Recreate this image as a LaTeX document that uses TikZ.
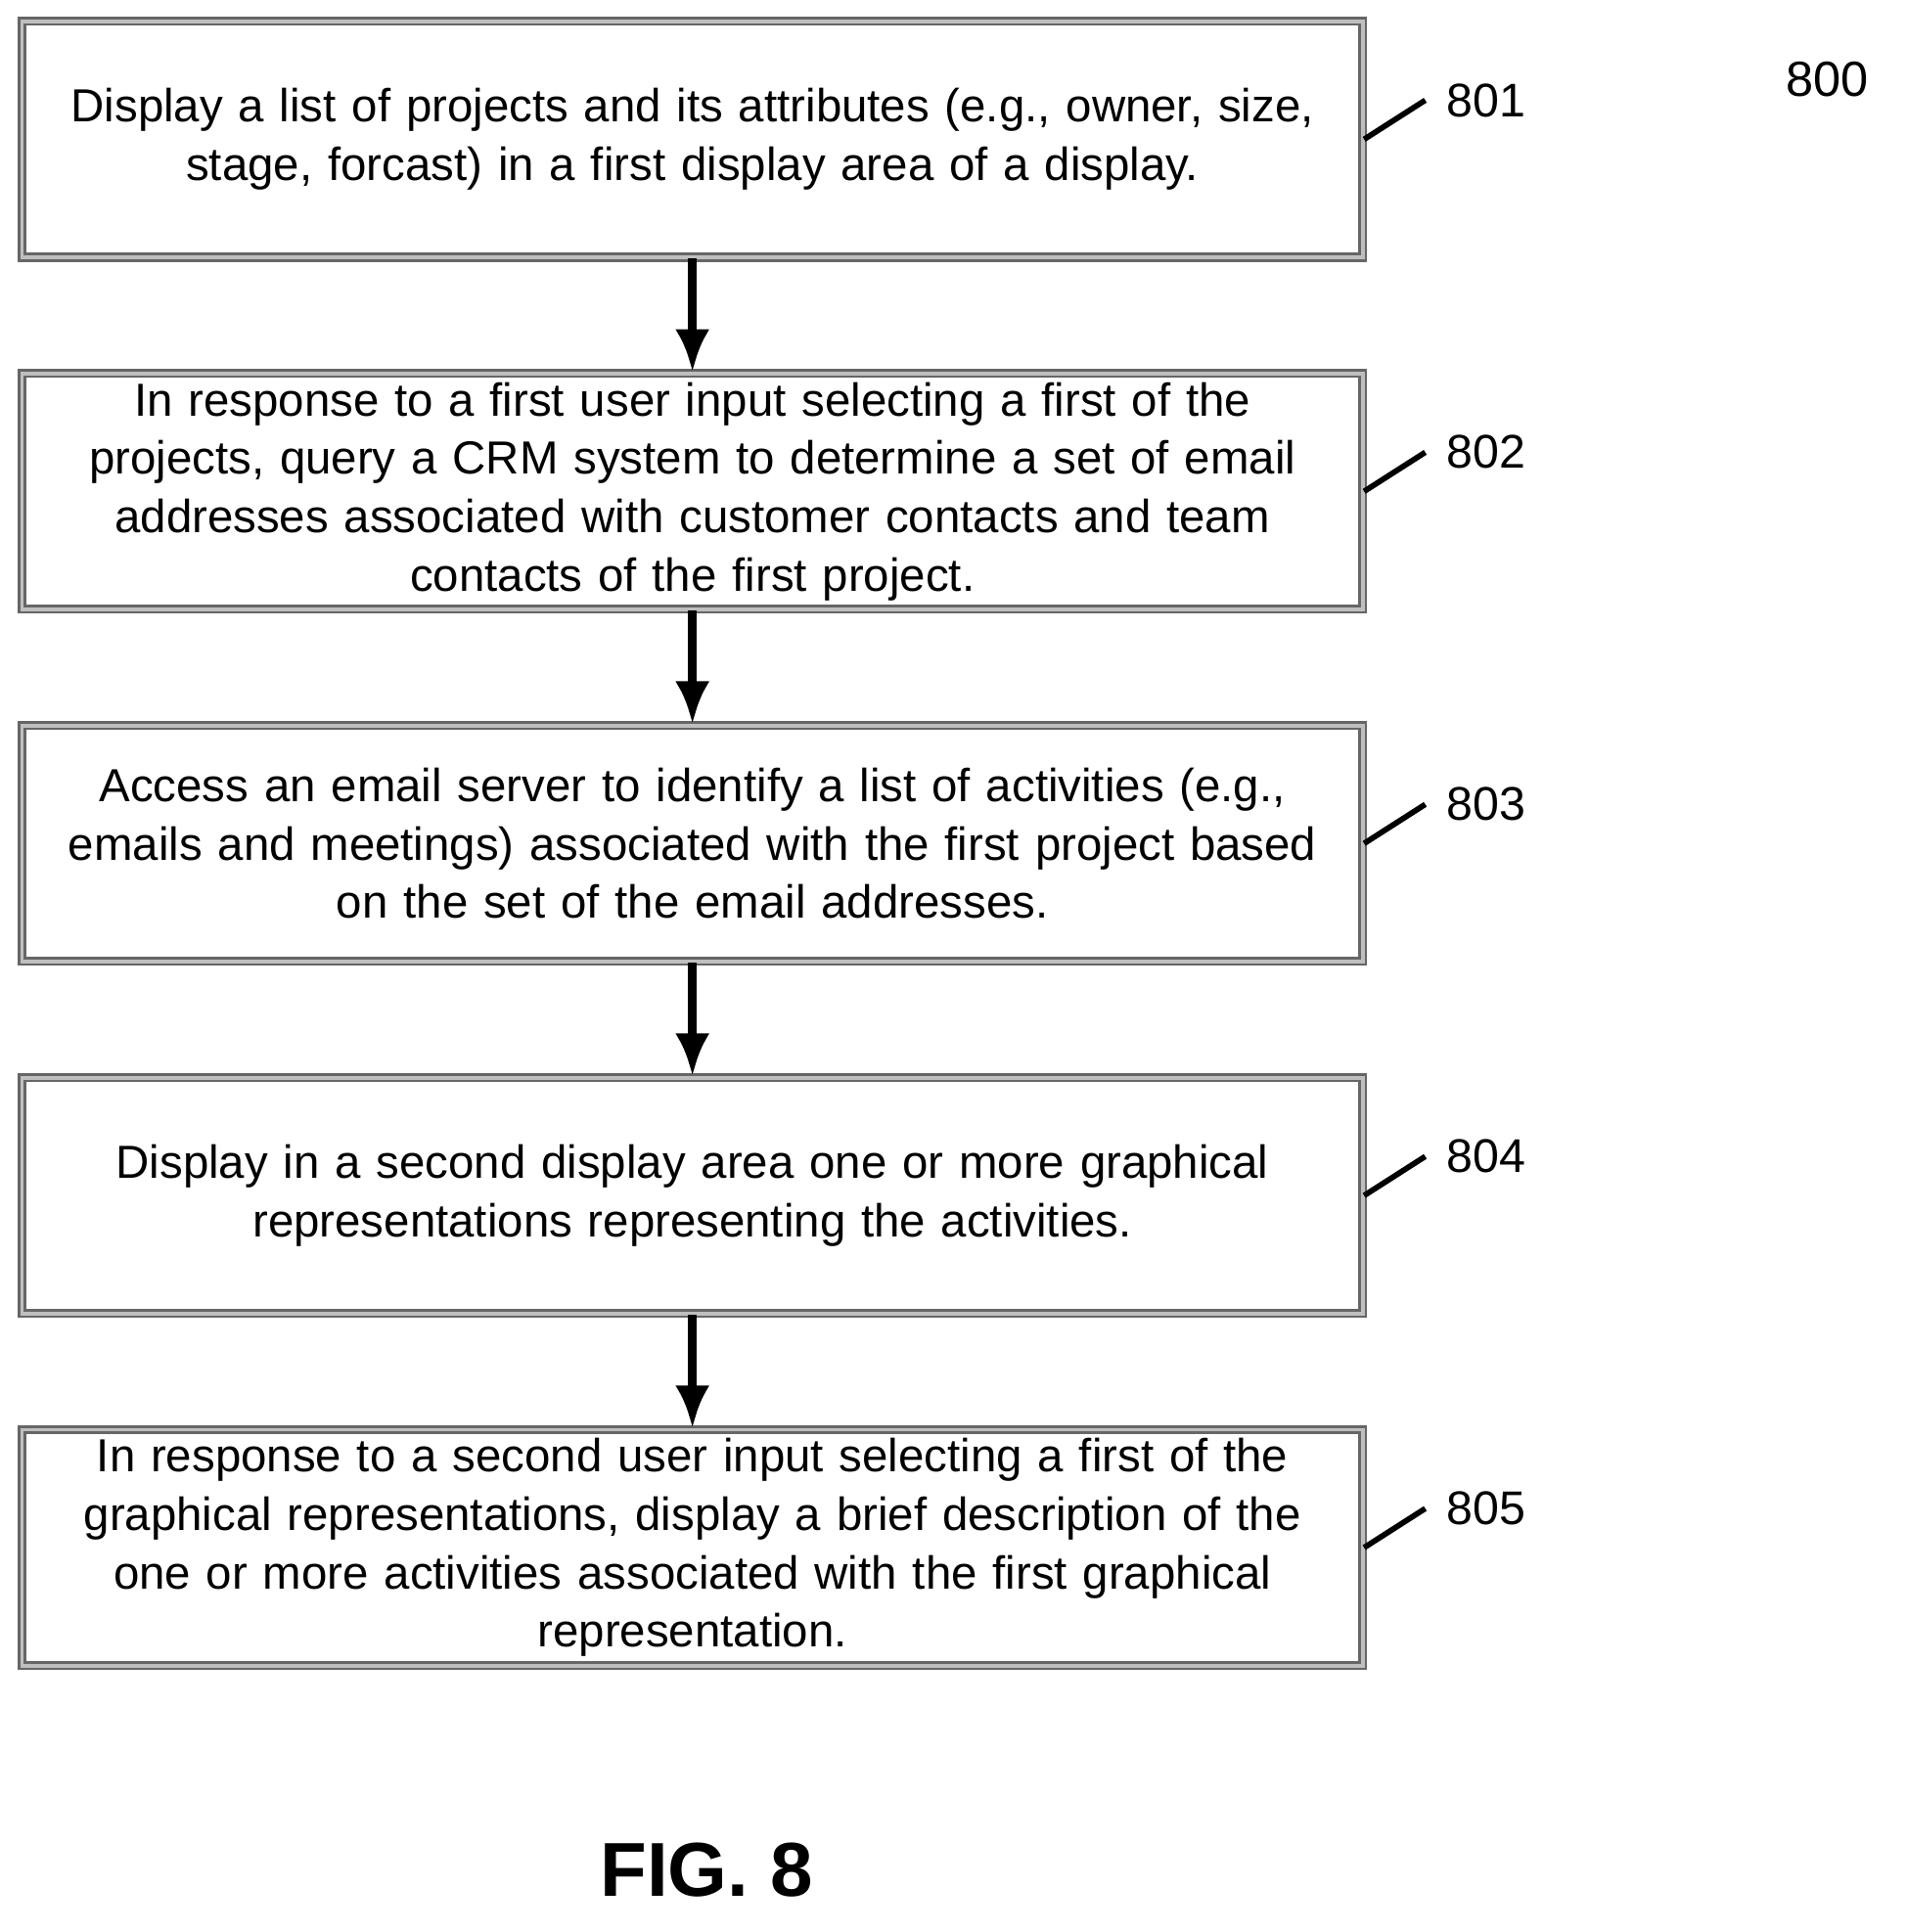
\documentclass[tikz,border=0pt]{standalone}
\usepackage{fontspec}
\setmainfont{Liberation Sans}
\usetikzlibrary{positioning,arrows.meta}
\tikzset{>={Latex[length=10pt,width=8pt]},
  stepbox/.style={draw=black!60, line width=0.6pt, double=black!25, double distance=0.9pt,
    minimum width=10.97cm, minimum height=1.93cm, text width=10.9cm, align=center,
    font=\fontsize{10.8}{13.6}\selectfont, inner sep=0pt},
  flow/.style={->, line width=2pt},
  tag/.style={font=\fontsize{11}{12}\selectfont, anchor=west}}

\begin{document}
\begin{tikzpicture}
	\useasboundingbox (0,0) rectangle (15.6,-15.81);

	\node[stepbox](s801) at (5.665,-1.14) {Display a list of projects and its attributes (e.g., owner, size,\\ stage, forcast) in a first display area of a display.};

	\node[stepbox, below=0.93cm of s801](s802) {In response to a first user input selecting a first of the\\ projects, query a CRM system to determine a set of email\\ addresses associated with customer contacts and team\\ contacts of the first project.};

	\node[stepbox, below=0.93cm of s802](s803) {Access an email server to identify a list of activities (e.g.,\\ emails and meetings) associated with the first project based\\ on the set of the email addresses.};

	\node[stepbox, below=0.93cm of s803](s804) {Display in a second display area one or more graphical\\ representations representing the activities.};

	\node[stepbox, below=0.93cm of s804](s805) {In response to a second user input selecting a first of the\\ graphical representations, display a brief description of the\\ one or more activities associated with the first graphical\\ representation.};

	% Arrows

	\draw[flow] (s801) to (s802);
	\draw[flow] (s802) to (s803);
	\draw[flow] (s803) to (s804);
	\draw[flow] (s804) to (s805);

	% Reference numbers

	\foreach \n in {801,802,803,804,805} {
		\coordinate (c\n) at ([xshift=0.5cm, yshift=0.32cm]s\n.east);
		\draw[line width=1.3pt] (s\n.east) -- (c\n);
		\node[tag](t\n) at ([xshift=0.05cm]c\n) {\n};
	}

	\node[font=\fontsize{11.5}{12}\selectfont](fig800) at (14.95,-0.65) {800};
	\node[font=\fontsize{17.8}{20}\selectfont\bfseries](fig) at (5.78,-15.3) {FIG. 8};
\end{tikzpicture}
\end{document}
